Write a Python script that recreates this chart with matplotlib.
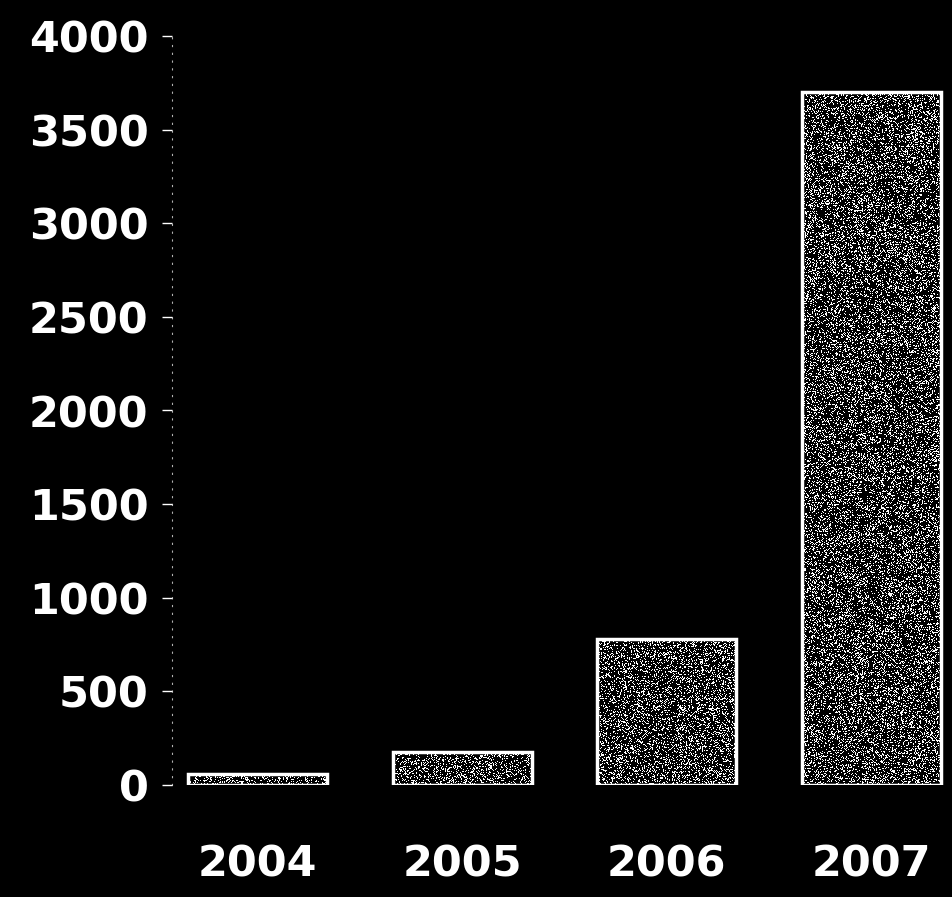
import numpy as np
import matplotlib
matplotlib.use("Agg")
import matplotlib.pyplot as plt

# Yearly totals
years = ["2004", "2005", "2006", "2007"]
values = [60, 175, 780, 3700]
y_ticks = [0, 500, 1000, 1500, 2000, 2500, 3000, 3500, 4000]

W, H = 953, 897
fig = plt.figure(figsize=(W / 100, H / 100), dpi=100, facecolor="black")
ax = fig.add_axes([172 / W, 1 - 785 / H, (W - 172) / W, (785 - 36) / H])
ax.set_facecolor("black")

x = np.arange(len(years))
xlim = (-0.42, 3.40)
ylim = (0, 4000)

# dark bars with a speckled grain texture and a bright outline
bars = ax.bar(x, values, width=0.68, color="black", linewidth=0, zorder=2)
rng = np.random.default_rng(11)
for b in bars:
    grain = (rng.random((760, 800)) < 0.24).astype(float)
    im = ax.imshow(grain, cmap="gray", vmin=0, vmax=1, extent=(*xlim, *ylim),
                   aspect="auto", interpolation="nearest", zorder=2.5)
    im.set_clip_path(b)
ax.bar(x, values, width=0.68, fill=False, edgecolor="white", linewidth=2.5, zorder=3)

ax.set_xlim(*xlim)
ax.set_ylim(*ylim)

for s in ("top", "right", "bottom"):
    ax.spines[s].set_visible(False)
ax.spines["left"].set_color("white")
ax.spines["left"].set_linewidth(0.8)
ax.spines["left"].set_linestyle((0, (1, 6)))
ax.spines["left"].set_alpha(0.7)

ax.set_yticks(y_ticks)
ax.set_yticklabels([str(v) for v in y_ticks])
ax.set_xticks(x)
ax.set_xticklabels(years)

ax.tick_params(axis="y", colors="white", length=7, width=1, pad=10)
ax.tick_params(axis="x", colors="white", length=0, pad=42)
for lab in ax.get_yticklabels() + ax.get_xticklabels():
    lab.set_fontsize(31)
    lab.set_fontweight("bold")
    lab.set_color("white")
    lab.set_family("DejaVu Sans")

fig.savefig("out.png", dpi=100, facecolor="black")
